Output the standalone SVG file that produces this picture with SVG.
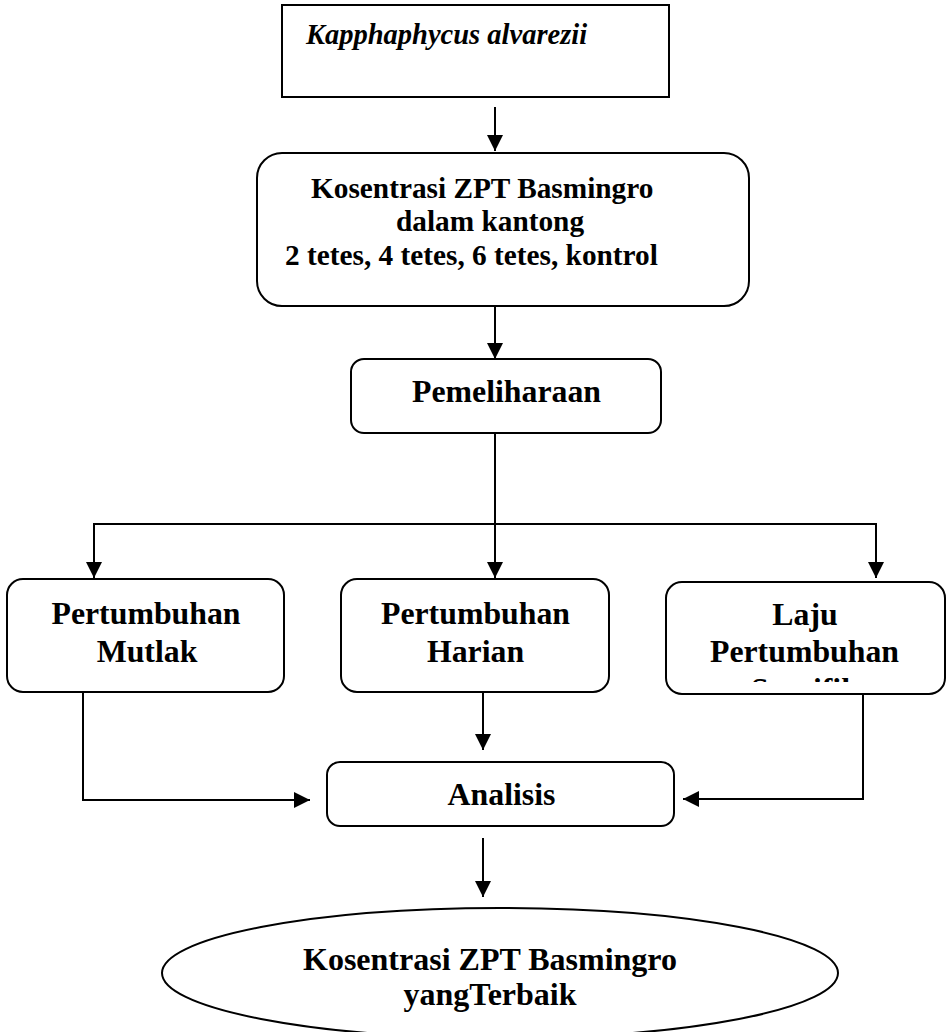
<svg xmlns="http://www.w3.org/2000/svg" width="949" height="1032" viewBox="0 0 949 1032">
<style>
.box{fill:#fff;stroke:#000;stroke-width:2}
.t{font-family:"Liberation Serif","Times New Roman",serif;font-weight:bold;fill:#000}
.m{text-anchor:middle}
.c{fill:none;stroke:#000;stroke-width:2}
</style>
<defs>
<marker id="ah" viewBox="0 0 16 16" refX="16" refY="8" markerWidth="16" markerHeight="16" markerUnits="userSpaceOnUse" orient="auto">
<path d="M0,0 L16,8 L0,16 Z" fill="#000"/>
</marker>
<clipPath id="lajuclip"><rect x="666" y="582" width="279" height="100"/></clipPath>
</defs>
<rect width="949" height="1032" fill="#fff"/>
<g id="n-kappaphycus">
<rect class="box" x="282" y="5" width="387" height="92"/>
<text class="t" x="306" y="44" font-size="28.5" font-style="italic">Kapphaphycus alvarezii</text>
</g>
<g id="n-kosentrasi">
<rect class="box" x="257" y="153" width="492" height="153" rx="25"/>
<text class="t" x="311" y="198" font-size="29.3">Kosentrasi ZPT Basmingro</text>
<text class="t" x="396" y="231" font-size="29.3">dalam kantong</text>
<text class="t" x="285" y="265" font-size="29.3">2 tetes, 4 tetes, 6 tetes, kontrol</text>
</g>
<g id="n-pemeliharaan">
<rect class="box" x="351" y="359" width="310" height="74" rx="13"/>
<text class="t m" x="506.5" y="402" font-size="31.8">Pemeliharaan</text>
</g>
<g id="n-mutlak">
<rect class="box" x="7" y="579" width="277" height="113" rx="16"/>
<text class="t m" x="146" y="624" font-size="31.8">Pertumbuhan</text>
<text class="t m" x="147" y="662" font-size="31.8">Mutlak</text>
</g>
<g id="n-harian">
<rect class="box" x="341" y="579" width="268" height="113" rx="16"/>
<text class="t m" x="475.5" y="624" font-size="31.8">Pertumbuhan</text>
<text class="t m" x="475.5" y="662" font-size="31.8">Harian</text>
</g>
<g id="n-laju">
<rect class="box" x="666" y="582" width="279" height="112" rx="16"/>
<text class="t m" x="805" y="625" font-size="31.8">Laju</text>
<text class="t m" x="804.5" y="662" font-size="31.8">Pertumbuhan</text>
<text class="t m" x="805" y="700" font-size="31.8" clip-path="url(#lajuclip)">Spesifik</text>
</g>
<g id="n-analisis">
<rect class="box" x="327" y="762" width="347" height="64" rx="13"/>
<text class="t m" x="501.5" y="805" font-size="31.8">Analisis</text>
</g>
<g id="n-hasil">
<ellipse class="box" cx="500" cy="973" rx="338" ry="65"/>
<text class="t m" x="490" y="970" font-size="32">Kosentrasi ZPT Basmingro</text>
<text class="t m" x="490" y="1005" font-size="32">yangTerbaik</text>
</g>
<g id="connectors">
<path class="c" d="M495,107 V151" marker-end="url(#ah)"/>
<path class="c" d="M495,306 V359" marker-end="url(#ah)"/>
<path class="c" d="M495,433 V578" marker-end="url(#ah)"/>
<path class="c" d="M94,578 V524 H876 V578" marker-end="url(#ah)"/>
<path class="c" d="M94,524 V578" marker-end="url(#ah)"/>
<path class="c" d="M483,692 V750" marker-end="url(#ah)"/>
<path class="c" d="M83,692 V800 H310" marker-end="url(#ah)"/>
<path class="c" d="M863,694 V799 H683" marker-end="url(#ah)"/>
<path class="c" d="M483,838 V897" marker-end="url(#ah)"/>
</g>
</svg>
